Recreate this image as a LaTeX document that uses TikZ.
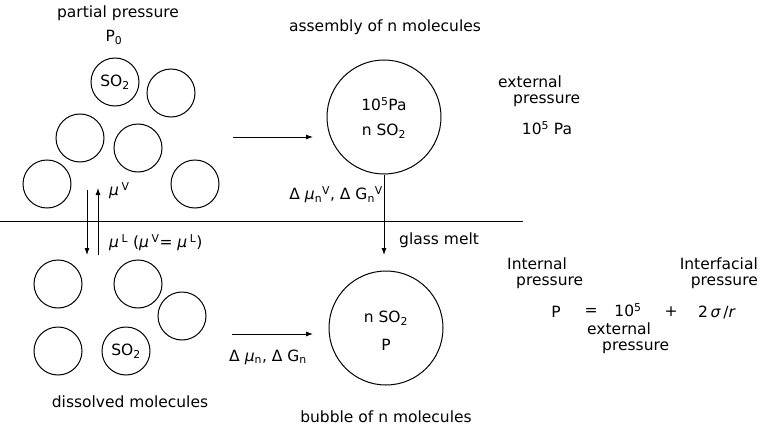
\documentclass[tikz,border=0pt]{standalone}
\usepackage{fontspec}
\setmainfont{DejaVu Sans}
\usetikzlibrary{arrows.meta}

\begin{document}
\begin{tikzpicture}[x=1pt,y=-1pt,font=\fontsize{15.5}{16.5}\selectfont,>={Latex[length=7pt,width=5pt]},
  mol/.style={draw,circle,line width=1pt,minimum size=48pt,inner sep=0pt},
  bubble/.style={draw,circle,line width=1pt,minimum size=114pt,inner sep=0pt},
  lbl/.style={inner sep=1pt,align=center},
  pair/.style={inner sep=1pt,align=left},
  flow/.style={->,line width=0.9pt}]
  \useasboundingbox (0,0) rectangle (763,428);
  \node[lbl] (pp) at (118,13) {partial pressure};
  \node[lbl] (pzero) at (114,37) {P\textsubscript{0}};
  \node[mol] (gso) at (115,82) {SO\textsubscript{2}};
  \foreach \n/\px/\py in {ga/171/93,gb/80/138,gc/138/148,gd/47/184,ge/195/184}
    \node[mol] (\n) at (\px,\py) {};
  \node[mol] (dso) at (126,351) {SO\textsubscript{2}};
  \foreach \n/\px/\py in {da/58/284,db/138/284,dc/182/316,dd/58/351}
    \node[mol] (\n) at (\px,\py) {};
  \node[lbl] (dis) at (130,402) {dissolved molecules};
  \coordinate (surfl) at (0,221);
  \coordinate (surfr) at (523,221);
  \draw[line width=0.9pt] (surfl) -- (surfr);
  \coordinate (dtop) at (87,190);
  \coordinate (dbot) at (87,255);
  \coordinate (utop) at (98,188);
  \coordinate (ubot) at (98,255);
  \draw[flow] (dtop) -- (dbot);
  \draw[flow] (ubot) -- (utop);
  \node[lbl,anchor=west] (muv) at (108,191) {\textit{μ}\,\textsuperscript{V}};
  \node[lbl,anchor=west] (mul) at (108,243) {\textit{μ}\,\textsuperscript{L} (\textit{μ}\,\textsuperscript{V}= \textit{μ}\,\textsuperscript{L})};
  \node[lbl] (asm) at (385,27) {assembly of n molecules};
  \node[bubble] (top) at (384,117) {};
  \node[lbl] (toppa) at (384,104) {10\textsuperscript{5}Pa};
  \node[lbl] (topn) at (384,131) {n SO\textsubscript{2}};
  \coordinate (ta) at (233,137);
  \coordinate (tb) at (313,137);
  \draw[flow] (ta) -- (tb);
  \node[pair,anchor=west] (ext) at (497,91) {external\\\hspace{15pt}pressure};
  \node[lbl] (extv) at (547,128) {10\textsuperscript{5} Pa};
  \coordinate (gm) at (384,255);
  \draw[flow] (top.south) -- (gm);
  \node[lbl,anchor=east] (dmuv) at (384,195) {Δ \textit{μ}\textsubscript{n}\textsuperscript{V}, Δ G\textsubscript{n}\textsuperscript{V}};
  \node[lbl,anchor=west] (melt) at (398,240) {glass melt};
  \node[bubble] (bot) at (386,328) {};
  \node[lbl] (botn) at (386,318) {n SO\textsubscript{2}};
  \node[lbl] (botp) at (386,345) {P};
  \coordinate (ba) at (232,334);
  \coordinate (bb) at (313,334);
  \draw[flow] (ba) -- (bb);
  \node[lbl] (dmun) at (268,357) {Δ \textit{μ}\textsubscript{n}, Δ G\textsubscript{n}};
  \node[lbl] (bub) at (386,417) {bubble of n molecules};
  \node[pair,anchor=west] (intl) at (506,273) {Internal\\\hspace{9pt}pressure};
  \node[pair,align=right,anchor=east] (ifl) at (759,273) {Interfacial\\pressure};
  \node[lbl] (eqp) at (556,312) {P};
  \node[lbl] (eqeq) at (591,312) {=};
  \node[lbl] (eqten) at (628,310) {10\textsuperscript{5}};
  \node[lbl] (eqplus) at (671,312) {+};
  \node[lbl] (eqsig) at (717,312) {2\,\textit{σ}\,/\textit{r}};
  \node[pair,anchor=west] (eqext) at (586,338) {external\\\hspace{15pt}pressure};
\end{tikzpicture}
\end{document}
